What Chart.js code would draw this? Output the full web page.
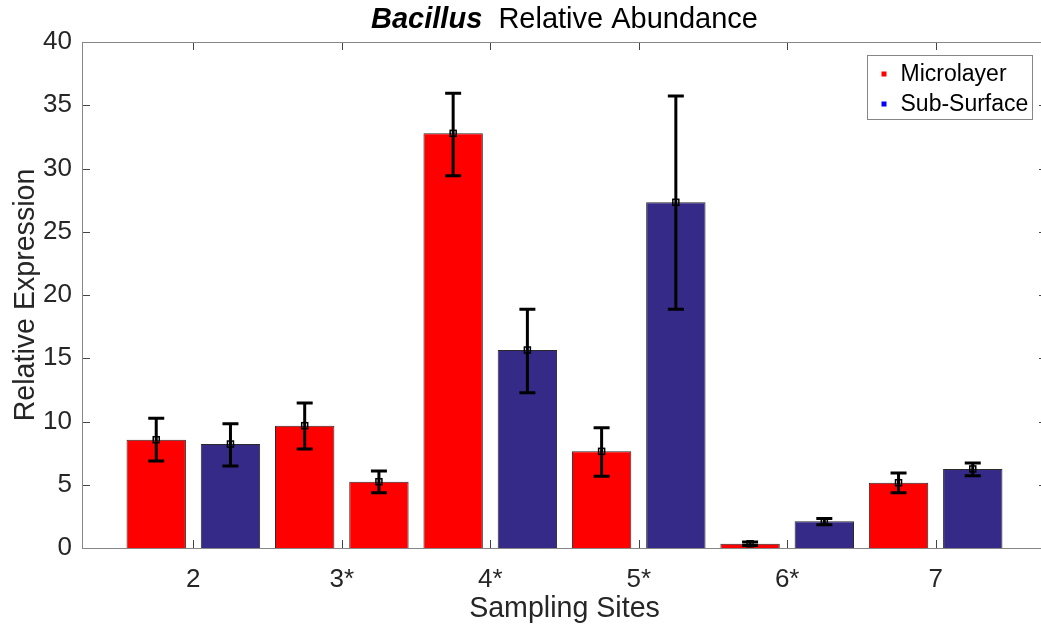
<!DOCTYPE html>
<html>
<head>
<meta charset="utf-8">
<script src="https://cdn.jsdelivr.net/npm/chart.js@4"></script>
<style>
  html, body { margin: 0; padding: 0; background: #fff; overflow: hidden; }
  #wrap { width: 1048px; height: 628px; }
</style>
</head>
<body>
<div id="wrap"><canvas id="abundance" width="1048" height="628"></canvas></div>
<script>
// sampling sites and the two bars drawn at each site
const categories = ['2', '3*', '4*', '5*', '6*', '7'];
const firstSeries = ['Microlayer', 'Microlayer', 'Microlayer', 'Microlayer', 'Microlayer', 'Microlayer'];
const secondSeries = ['Sub-Surface', 'Microlayer', 'Sub-Surface', 'Sub-Surface', 'Sub-Surface', 'Sub-Surface'];

const firstValues = [8.56, 9.67, 32.78, 7.64, 0.33, 5.16];
const firstLow = [6.88, 7.83, 29.43, 5.67, 0.20, 4.37];
const firstHigh = [10.25, 11.46, 35.94, 9.51, 0.48, 5.93];

const secondValues = [8.22, 5.24, 15.65, 27.33, 2.11, 6.25];
const secondLow = [6.48, 4.37, 12.28, 18.87, 1.84, 5.72];
const secondHigh = [9.83, 6.09, 18.87, 35.73, 2.34, 6.72];

const legendNames = ['Microlayer', 'Sub-Surface'];
const yMax = 40;
const yStep = 5;

const FONT = "'Liberation Sans', Arial, Helvetica, sans-serif";
const barColors = { 'Microlayer': '#FF0000', 'Sub-Surface': '#352A87' };
const markerColors = { 'Microlayer': '#FF0000', 'Sub-Surface': '#0000FF' };

function points(values) {
    return values.map((v, i) => ({ x: i + 1, y: v }));
}

// error bars with a small square at the mean
const errorBars = {
    id: 'errorBars',
    afterDatasetsDraw(chart) {
        const ctx = chart.ctx;
        const y = chart.scales.y;
        const bounds = [[firstLow, firstHigh, firstValues], [secondLow, secondHigh, secondValues]];
        ctx.save();
        ctx.strokeStyle = '#000';
        chart.data.datasets.forEach((ds, d) => {
            const meta = chart.getDatasetMeta(d);
            const [lo, hi, mid] = bounds[d];
            meta.data.forEach((bar, i) => {
                const x = bar.x;
                const yl = y.getPixelForValue(lo[i]);
                const yh = y.getPixelForValue(hi[i]);
                const ym = y.getPixelForValue(mid[i]);
                ctx.lineWidth = 3;
                ctx.beginPath();
                ctx.moveTo(x, yl); ctx.lineTo(x, yh);
                ctx.moveTo(x - 8, yl); ctx.lineTo(x + 8, yl);
                ctx.moveTo(x - 8, yh); ctx.lineTo(x + 8, yh);
                ctx.stroke();
                ctx.lineWidth = 1.5;
                ctx.strokeRect(x - 3, ym - 3, 6, 6);
            });
        });
        ctx.restore();
    }
};

// box around the axes with inward tick marks on all four sides
const axesBox = {
    id: 'axesBox',
    afterDraw(chart) {
        const ctx = chart.ctx;
        const { left, right, top, bottom } = chart.chartArea;
        const xs = chart.scales.x, ys = chart.scales.y;
        const len = 8;
        ctx.save();
        ctx.strokeStyle = '#444';
        ctx.lineWidth = 1;
        ctx.beginPath();
        xs.ticks.forEach(t => {
            const px = Math.round(xs.getPixelForValue(t.value)) + 0.5;
            ctx.moveTo(px, bottom); ctx.lineTo(px, bottom - len);
            ctx.moveTo(px, top); ctx.lineTo(px, top + len);
        });
        ys.ticks.forEach(t => {
            const py = Math.round(ys.getPixelForValue(t.value)) + 0.5;
            ctx.moveTo(left, py); ctx.lineTo(left + len, py);
            ctx.moveTo(right, py); ctx.lineTo(right - len, py);
        });
        ctx.stroke();
        ctx.strokeStyle = '#868686';
        ctx.strokeRect(Math.round(left) + 0.5, Math.round(top) + 0.5,
            Math.round(right - left), Math.round(bottom - top));
        ctx.restore();
    }
};

// title with the genus name in bold italic
const titleLine = {
    id: 'titleLine',
    afterDraw(chart) {
        const ctx = chart.ctx;
        const { left, right } = chart.chartArea;
        const genus = 'Bacillus';
        const rest = '  Relative Abundance';
        ctx.save();
        ctx.fillStyle = '#000';
        ctx.textBaseline = 'alphabetic';
        ctx.font = 'italic bold 29px ' + FONT;
        const w1 = ctx.measureText(genus).width;
        ctx.font = '29px ' + FONT;
        const w2 = ctx.measureText(rest).width;
        let x = (left + right) / 2 - (w1 + w2) / 2;
        ctx.font = 'italic bold 29px ' + FONT;
        ctx.fillText(genus, x, 28);
        ctx.font = '29px ' + FONT;
        ctx.fillText(rest, x + w1, 28);
        ctx.restore();
    }
};

// boxed legend inside the top right corner
const boxLegend = {
    id: 'boxLegend',
    afterDraw(chart) {
        const ctx = chart.ctx;
        const { right, top } = chart.chartArea;
        const w = 165, h = 64;
        const bx = Math.round(right - 15 - w) + 0.5, by = Math.round(top + 13) + 0.5;
        ctx.save();
        ctx.fillStyle = '#fff';
        ctx.fillRect(bx, by, w, h);
        ctx.strokeStyle = '#868686';
        ctx.lineWidth = 1;
        ctx.strokeRect(bx, by, w, h);
        ctx.font = '23px ' + FONT;
        ctx.textBaseline = 'middle';
        legendNames.forEach((name, i) => {
            const cy = by + 18 + i * 30;
            ctx.fillStyle = markerColors[name];
            ctx.fillRect(bx + 14, cy - 2, 5, 5);
            ctx.fillStyle = '#000';
            ctx.fillText(name, bx + 33, cy + 1);
        });
        ctx.restore();
    }
};

document.addEventListener('DOMContentLoaded', function () {
    const el = document.getElementById('abundance');

    new Chart(el, {
        type: 'bar',
        data: {
            datasets: [{
                label: 'first',
                data: points(firstValues),
                backgroundColor: firstSeries.map(s => barColors[s]),
                borderColor: '#2a2a2a',
                borderWidth: 1,
                categoryPercentage: 1.0,
                barPercentage: 0.8
            }, {
                label: 'second',
                data: points(secondValues),
                backgroundColor: secondSeries.map(s => barColors[s]),
                borderColor: '#2a2a2a',
                borderWidth: 1,
                categoryPercentage: 1.0,
                barPercentage: 0.8
            }]
        },
        options: {
            responsive: false,
            animation: false,
            layout: { padding: { top: 42, right: 1, left: 0, bottom: 0 } },
            plugins: {
                legend: { display: false },
                tooltip: { enabled: false }
            },
            scales: {
                x: {
                    type: 'linear',
                    offset: false,
                    min: 0.25,
                    max: categories.length + 0.75,
                    grid: { display: false },
                    border: { display: false },
                    afterBuildTicks: (scale) => {
                        scale.ticks = categories.map((c, i) => ({ value: i + 1 }));
                    },
                    afterFit: (scale) => { scale.height = 80; },
                    ticks: {
                        padding: 8,
                        color: '#262626',
                        font: { family: FONT, size: 26 },
                        callback: (v) => categories[v - 1]
                    },
                    title: {
                        display: true,
                        text: 'Sampling Sites',
                        color: '#262626',
                        padding: { top: 0, bottom: 2 },
                        font: { family: FONT, size: 28.6 }
                    }
                },
                y: {
                    min: 0,
                    max: yMax,
                    grid: { display: false },
                    border: { display: false },
                    afterFit: (scale) => { scale.width = 82; },
                    ticks: {
                        stepSize: yStep,
                        padding: 2,
                        color: '#262626',
                        font: { family: FONT, size: 26 }
                    },
                    title: {
                        display: true,
                        text: 'Relative Expression',
                        color: '#262626',
                        padding: { top: 9, bottom: 0 },
                        font: { family: FONT, size: 28.6 }
                    }
                }
            }
        },
        plugins: [errorBars, axesBox, titleLine, boxLegend]
    });
});
</script>
</body>
</html>
